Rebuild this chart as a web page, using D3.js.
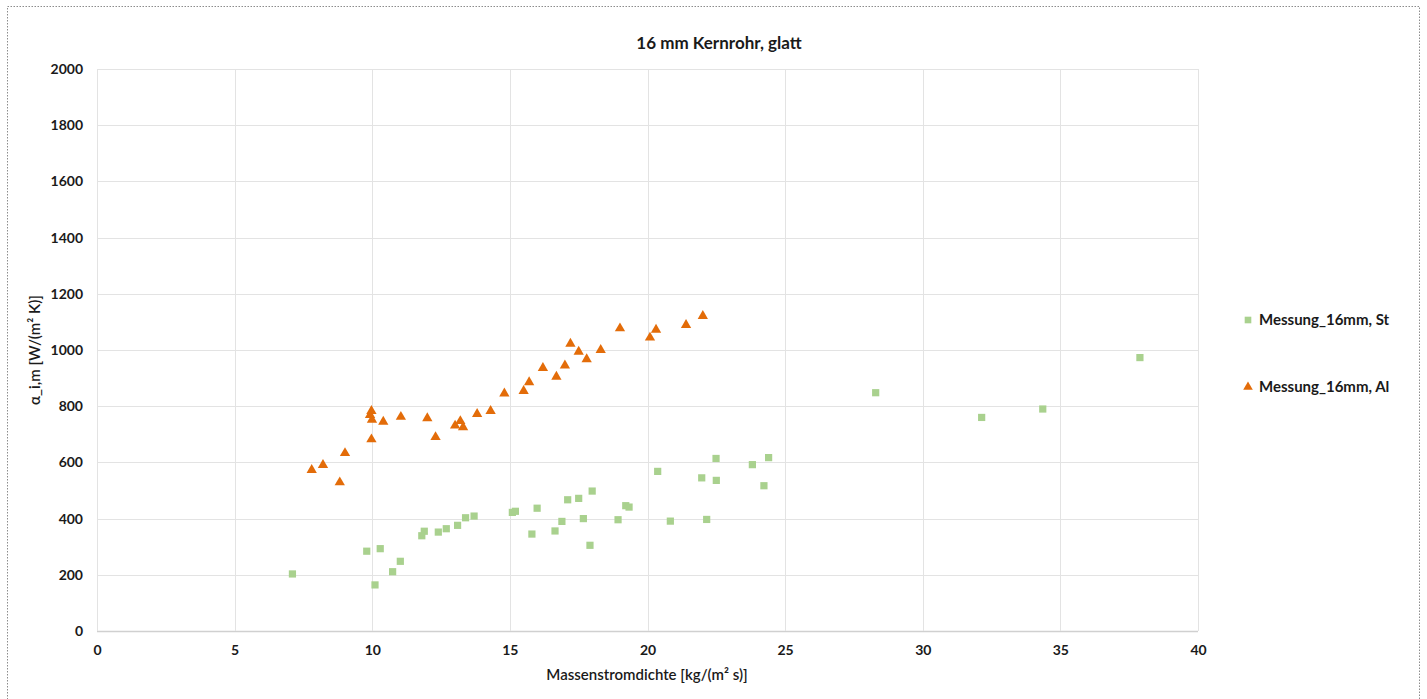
<!DOCTYPE html>
<html>
<head>
<meta charset="utf-8">
<script src="https://cdn.jsdelivr.net/npm/d3@7"></script>
<style>
  body { margin: 0; background: #fff; }
  svg { font-family: Lato, "Open Sans", sans-serif; }
</style>
</head>
<body>
<div id="chart"></div>
<script>
// Messung_16mm, St  (x = Massenstromdichte, y = alpha)
var stX = [7.10, 9.80, 10.29, 10.10, 10.74, 11.02, 11.80, 11.89, 12.40, 12.69, 13.10, 13.39, 13.70,
           15.09, 15.20, 15.99, 15.80, 16.64, 16.89, 17.10, 17.50, 17.99, 17.67, 17.91, 18.93, 19.21,
           19.33, 20.37, 20.83, 21.97, 22.15, 22.49, 22.50, 23.81, 24.23, 24.40, 28.29, 32.14, 34.36, 37.89];
var stY = [203, 284, 293, 164, 211, 248, 339, 355, 352, 364, 376, 403, 409,
           422, 426, 437, 345, 356, 390, 467, 472, 498, 400, 305, 396, 446,
           441, 568, 391, 545, 397, 614, 536, 592, 517, 617, 848, 760, 790, 973];

// Messung_16mm, Al
var alX = [7.80, 8.21, 8.82, 9.01, 9.97, 9.97, 9.92, 9.99, 10.40, 11.04, 12.00, 12.30, 13.01, 13.20,
           13.30, 13.81, 14.30, 14.80, 15.50, 15.70, 16.20, 16.69, 17.00, 17.20, 17.50, 17.79,
           18.30, 19.00, 20.09, 20.31, 21.40, 22.01];
var alY = [573, 591, 529, 633, 682, 783, 769, 752, 745, 762, 757, 690, 731, 747,
           725, 772, 783, 845, 854, 885, 936, 905, 945, 1022, 994, 967,
           1000, 1077, 1044, 1072, 1089, 1121];

var xTicks = [0, 5, 10, 15, 20, 25, 30, 35, 40];
var yTicks = [0, 200, 400, 600, 800, 1000, 1200, 1400, 1600, 1800, 2000];
var seriesNames = ["Messung_16mm, St", "Messung_16mm, Al"];

var W = 1427, H = 699;
var margin = {top: 69, right: 229, bottom: 68, left: 97};
var green = "#a9d18e", orange = "#e36c09";

var svg = d3.select("#chart").append("svg")
    .attr("width", W)
    .attr("height", H);

// dotted outer frame
svg.append("rect")
    .attr("x", 7.5).attr("y", 6.5)
    .attr("width", 1412).attr("height", 700)
    .attr("fill", "none")
    .attr("stroke", "#8c8c8c")
    .attr("stroke-dasharray", "1.5,1.5");

var x = d3.scaleLinear().domain([0, 40]).range([margin.left, W - margin.right]);
var y = d3.scaleLinear().domain([0, 2000]).range([H - margin.bottom, margin.top]);

// gridlines
svg.append("g").selectAll("line").data(yTicks).enter().append("line")
    .attr("x1", x(0)).attr("x2", x(40))
    .attr("y1", function(d){ return Math.round(y(d)) + 0.5; })
    .attr("y2", function(d){ return Math.round(y(d)) + 0.5; })
    .attr("stroke", function(d){ return d == 0 ? "#d0d0d0" : "#e3e3e3"; })
    .attr("stroke-width", function(d){ return d == 0 ? 1.5 : 1; });

svg.append("g").selectAll("line").data(xTicks).enter().append("line")
    .attr("y1", y(0)).attr("y2", y(2000))
    .attr("x1", function(d){ return Math.round(x(d)) + 0.5; })
    .attr("x2", function(d){ return Math.round(x(d)) + 0.5; })
    .attr("stroke", "#e3e3e3");

// axes (labels only)
var xAxis = svg.append("g")
    .attr("transform", "translate(0," + (y(0) + 8) + ")")
    .call(d3.axisBottom(x).tickValues(xTicks).tickFormat(d3.format("d")).tickSize(0).tickPadding(6));
var yAxis = svg.append("g")
    .attr("transform", "translate(" + (x(0) - 14) + ",0)")
    .call(d3.axisLeft(y).tickValues(yTicks).tickFormat(d3.format("d")).tickSize(0).tickPadding(0));
[xAxis, yAxis].forEach(function(a){
    a.select(".domain").remove();
    a.selectAll("text")
        .attr("fill", "#1a1a1a")
        .style("font-size", "14px")
        .style("font-weight", "bold")
        .style("font-family", "Lato, 'Open Sans', sans-serif");
});

// title
svg.append("text")
    .attr("x", 719).attr("y", 49)
    .attr("text-anchor", "middle")
    .style("font-size", "17px")
    .style("font-weight", "bold")
    .attr("fill", "#1a1a1a")
    .text("16 mm Kernrohr, glatt");

// axis titles
svg.append("text")
    .attr("x", 647).attr("y", 680)
    .attr("text-anchor", "middle")
    .style("font-size", "15px")
    .style("font-weight", "600")
    .attr("fill", "#1a1a1a")
    .text("Massenstromdichte [kg/(m² s)]");

svg.append("text")
    .attr("transform", "translate(40,350) rotate(-90)")
    .attr("text-anchor", "middle")
    .style("font-size", "15px")
    .style("font-weight", "600")
    .attr("fill", "#1a1a1a")
    .text("α_i,m [W/(m² K)]");

// markers
var sq = d3.symbol().type(d3.symbolSquare).size(52);
var tri = d3.symbol().type(d3.symbolTriangle).size(46);

svg.append("g").selectAll("path").data(d3.range(stX.length)).enter().append("path")
    .attr("d", sq)
    .attr("transform", function(i){ return "translate(" + x(stX[i]) + "," + y(stY[i]) + ")"; })
    .attr("fill", green);

svg.append("g").selectAll("path").data(d3.range(alX.length)).enter().append("path")
    .attr("d", tri)
    .attr("transform", function(i){ return "translate(" + x(alX[i]) + "," + y(alY[i]) + ")"; })
    .attr("fill", orange);

// legend
var legend = svg.append("g").attr("transform", "translate(1248,0)");
var legY = [320, 387];
legend.selectAll("path").data(seriesNames).enter().append("path")
    .attr("d", function(d, i){ return i == 0 ? d3.symbol().type(d3.symbolSquare).size(44)() : d3.symbol().type(d3.symbolTriangle).size(40)(); })
    .attr("transform", function(d, i){ return "translate(0," + legY[i] + ")"; })
    .attr("fill", function(d, i){ return i == 0 ? green : orange; });
legend.selectAll("text").data(seriesNames).enter().append("text")
    .attr("x", 11)
    .attr("y", function(d, i){ return legY[i] + 5; })
    .style("font-size", "15px")
    .style("font-weight", "bold")
    .attr("fill", "#1a1a1a")
    .text(function(d){ return d; });
</script>
</body>
</html>
